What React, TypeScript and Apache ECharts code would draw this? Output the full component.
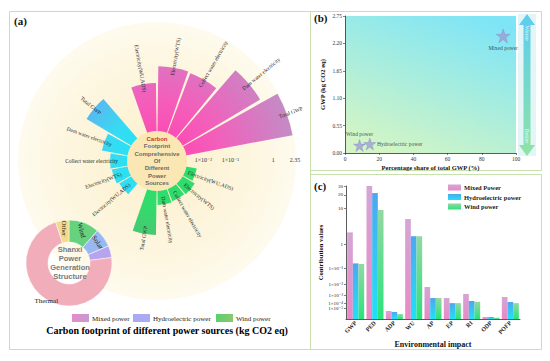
import React, { useEffect, useRef } from 'react';
import * as echarts from 'echarts';

const SERIF = '"Liberation Serif", "Times New Roman", "DejaVu Serif", serif';
const SANS = '"Liberation Sans", Arial, "DejaVu Sans", sans-serif';

// ---------- (a) carbon footprint of power sources (kg CO2 eq) ----------
const footprintItems = ['Total GWP', 'Dam water electricity', 'Collect water electricity', 'Electricity(WTS)', 'Electricity(WU,ADS)'];
const mixedFootprint = [2.35, 1.17, 0.34, 0.36, 0.135];
const hydroFootprint = [0.174, 0.026, 0.0108, 0.0097, 0.0077];
const windFootprint = [0.104, 0.0077, 0.0069, 0.0077, 0.0051];
const angleSlots = ['M1', 'M2', 'M3', 'M4', 'M5', 'gapA', 'H1', 'H2', 'H3', 'H4', 'H5', 'gapB', 'W1', 'W2', 'W3', 'W4', 'W5', 'gapC'];
const mixedStart = 0;
const hydroStart = 6;
const windStart = 12;
const zeroSlot = 17;
const radialTicks = [0.01, 0.1, 1, 2.35];
const radialTickLabels = ['1×10⁻²', '1×10⁻¹', '1', '2.35'];
const centerLines = ['Carbon', 'Footprint', 'Comprehensive', 'Of', 'Different', 'Power', 'Sources'];

// ---------- Shanxi power generation structure ----------
const shanxiSources = ['Wind', 'Solar', 'Hydro', 'Thermal', 'Other'];
const shanxiShare = [11.5, 7, 4.5, 72, 5];
const shanxiLines = ['Shanxi', 'Power', 'Generation', 'Structure'];

// ---------- (b) GWP vs share ----------
const gwpSources = ['Mixed power', 'Wind power', 'Hydroelectric power'];
const gwpShare = [92.5, 8.5, 14.5];
const gwpValue = [2.35, 0.15, 0.18];

// ---------- (c) environmental impacts ----------
const impactCategories = ['GWP', 'PED', 'ADP', 'WU', 'AP', 'EP', 'RI', 'ODP', 'POFP'];
const mixedImpact = [2.35, 31, 1.7e-6, 5.5, 6.4e-3, 5.2e-4, 1.5e-3, 5e-10, 6.9e-4];
const hydroImpact = [0.17, 21.7, 7.7e-7, 1.8, 5.2e-4, 1.0e-4, 2.1e-4, 5e-10, 1.5e-4];
const windImpact = [0.16, 9.2, 1e-7, 1.8, 5.2e-4, 1.0e-4, 1.6e-4, 2e-11, 1.0e-4];
const impactTicks = [1e-5, 1e-4, 1e-3, 1e-2, 0.1, 1, 10, 20, 30];
const impactTickLabels = ['1×10⁻⁵', '1×10⁻⁴', '1×10⁻³', '1×10⁻²', '1×10⁻¹', '1', '10', '20', '30'];

// axis scale transforms (power scales used by the original figure)
const RP = 0.2;
const rt = (v: number) => Math.pow(v, RP);
const CP = 0.1685;
const ct = (v: number) => Math.pow(v, CP);

const STAR = 'path://M50,0 L61.8,35.1 L98.9,35.1 L68.8,56.7 L80.3,91.9 L50,70 L19.7,91.9 L31.2,56.7 L1.1,35.1 L38.2,35.1 Z';

function slotData(vals: number[], start: number) {
  return angleSlots.map((_, k) => (k >= start && k < start + vals.length ? rt(vals[k - start]) : '-'));
}

export default function App() {
  const ref = useRef<HTMLDivElement>(null);
  useEffect(() => {
    if (!ref.current) return;
    const chart = echarts.init(ref.current, undefined, { renderer: 'svg' });
    const PCX = 157, PCY = 161, PR = 138;
    const rg = (stops: [number, string][]) =>
      new echarts.graphic.RadialGradient(PCX, PCY, PR, stops.map(([offset, color]) => ({ offset, color })), true);

    const barLabelItems: { t: number; slot: number; text: string }[] = [];
    [[mixedFootprint, mixedStart], [hydroFootprint, hydroStart], [windFootprint, windStart]].forEach(([vals, st]: any) => {
      (vals as number[]).forEach((v, i) => barLabelItems.push({ t: rt(v), slot: st + i, text: footprintItems[i] }));
    });

    const tickT = impactTicks.map(ct);

    const lg = (a: string, b: string) =>
      new echarts.graphic.LinearGradient(0, 0, 0, 1, [{ offset: 0, color: a }, { offset: 1, color: b }]);

    const graphics: any[] = [
      // panel frames
      { type: 'rect', shape: { x: 9.5, y: 11.5, width: 301, height: 338 }, style: { fill: 'none', stroke: '#c8e0b0', lineWidth: 1 }, z: 0 },
      { type: 'rect', shape: { x: 310.5, y: 11.5, width: 231, height: 159 }, style: { fill: 'none', stroke: '#c8e0b0', lineWidth: 1 }, z: 0 },
      { type: 'rect', shape: { x: 310.5, y: 174.5, width: 231, height: 175 }, style: { fill: 'none', stroke: '#c8e0b0', lineWidth: 1 }, z: 0 },
      // big pale circle
      {
        type: 'circle', shape: { cx: PCX, cy: PCY, r: 139 }, z: 0, silent: true,
        style: { fill: new echarts.graphic.RadialGradient(0.5, 0.5, 0.5, [{ offset: 0, color: '#fcf0cc' }, { offset: 0.7, color: '#fdf6e0' }, { offset: 1, color: '#fefbee' }]) },
      },
      // center circle
      { type: 'circle', shape: { cx: PCX, cy: PCY, r: 30 }, style: { fill: '#fbe7b4' }, z: 10 },
      ...centerLines.map((s, i) => ({
        type: 'text', x: PCX, y: 139 + i * 7.3, z: 11,
        style: { text: s, align: 'center', verticalAlign: 'middle', font: `bold 6px ${SANS}`, fill: i === 0 ? '#c0392b' : '#6a6a6a' },
      })),
      ...shanxiLines.map((s, i) => ({
        type: 'text', x: 70, y: 249 + i * 9.3, z: 11,
        style: { text: s, align: 'center', verticalAlign: 'middle', font: `bold 7.5px ${SANS}`, fill: '#787878' },
      })),
      // panel labels
      { type: 'text', x: 14, y: 21, z: 11, style: { text: '(a)', verticalAlign: 'middle', font: `bold 11px ${SERIF}`, fill: '#111' } },
      { type: 'text', x: 314, y: 18, z: 11, style: { text: '(b)', verticalAlign: 'middle', font: `bold 11px ${SERIF}`, fill: '#111' } },
      { type: 'text', x: 314, y: 186, z: 11, style: { text: '(c)', verticalAlign: 'middle', font: `bold 11px ${SERIF}`, fill: '#111' } },
      // (a) legend
      { type: 'rect', shape: { x: 72, y: 314, width: 17, height: 8 }, z: 11, style: { fill: new echarts.graphic.LinearGradient(0, 0, 1, 0, [{ offset: 0, color: '#e58ccd' }, { offset: 1, color: '#c99ad0' }]) } },
      { type: 'text', x: 92, y: 318.5, z: 11, style: { text: 'Mixed power', verticalAlign: 'middle', font: `7px ${SERIF}`, fill: '#222' } },
      { type: 'rect', shape: { x: 133, y: 314, width: 17, height: 8 }, z: 11, style: { fill: '#aaaaf4' } },
      { type: 'text', x: 153, y: 318.5, z: 11, style: { text: 'Hydroelectric power', verticalAlign: 'middle', font: `7px ${SERIF}`, fill: '#222' } },
      { type: 'rect', shape: { x: 216, y: 314, width: 17, height: 8 }, z: 11, style: { fill: new echarts.graphic.LinearGradient(0, 0, 1, 0, [{ offset: 0, color: '#5ccf6f' }, { offset: 1, color: '#8cc86c' }]) } },
      { type: 'text', x: 236, y: 318.5, z: 11, style: { text: 'Wind power', verticalAlign: 'middle', font: `7px ${SERIF}`, fill: '#222' } },
      { type: 'text', x: 167, y: 330, z: 11, style: { text: 'Carbon footprint of different power sources (kg CO2 eq)', align: 'center', verticalAlign: 'middle', font: `bold 10px ${SERIF}`, fill: '#000' } },
      // (b) better/worse arrow
      { type: 'rect', shape: { x: 518, y: 14, width: 18, height: 142 }, z: 1, style: { fill: '#e3f5f6' } },
      {
        type: 'polygon', z: 2,
        shape: { points: [[527, 14], [535, 25], [530.5, 25], [530.5, 145], [535, 145], [527, 156], [519, 145], [523.5, 145], [523.5, 25], [519, 25]] },
        style: { fill: lg('#5ccdf2', '#8fe3a4') },
      },
      { type: 'text', x: 527, y: 33, rotation: -Math.PI / 2, z: 3, style: { text: 'Worse', align: 'center', verticalAlign: 'middle', font: `6px ${SERIF}`, fill: '#e4f7ff' } },
      { type: 'text', x: 527, y: 136, rotation: -Math.PI / 2, z: 3, style: { text: 'Better', align: 'center', verticalAlign: 'middle', font: `6px ${SERIF}`, fill: '#e4f7ff' } },
    ];

    const option: any = {
      animation: false,
      backgroundColor: '#ffffff',
      graphic: { elements: graphics },
      polar: { center: [PCX, PCY], radius: [0, PR] },
      radiusAxis: {
        type: 'value', min: 0, max: rt(2.35),
        axisLine: { show: false }, axisTick: { show: false }, axisLabel: { show: false }, splitLine: { show: false },
      },
      angleAxis: {
        type: 'category', data: angleSlots, startAngle: 10, clockwise: false,
        axisLine: { show: false }, axisTick: { show: false }, axisLabel: { show: false }, splitLine: { show: false },
      },
      grid: [
        {
          left: 345, top: 16, width: 171, height: 137, show: true, borderWidth: 0,
          backgroundColor: new echarts.graphic.LinearGradient(0.25, 1, 0.75, 0, [
            { offset: 0, color: '#d3f5c5' }, { offset: 1, color: '#7fe5f6' },
          ]),
        },
        { left: 346, top: 186, width: 174, height: 133 },
      ],
      xAxis: [
        {
          gridIndex: 0, type: 'value', min: 0, max: 100, interval: 20,
          name: 'Percentage share of total GWP (%)', nameLocation: 'middle', nameGap: 11,
          nameTextStyle: { fontFamily: SERIF, fontWeight: 'bold', fontSize: 6.5, color: '#111' },
          axisLine: { lineStyle: { color: '#333', width: 0.8 } },
          axisTick: { length: 2, lineStyle: { color: '#333', width: 0.6 } },
          axisLabel: { fontFamily: SERIF, fontSize: 5.5, color: '#333', margin: 3 },
          splitLine: { show: false },
        },
        {
          gridIndex: 1, type: 'category', data: impactCategories,
          name: 'Environmental impact', nameLocation: 'middle', nameGap: 21,
          nameTextStyle: { fontFamily: SERIF, fontWeight: 'bold', fontSize: 8, color: '#111' },
          axisLine: { lineStyle: { color: '#333', width: 0.8 } },
          axisTick: { show: false },
          axisLabel: { interval: 0, rotate: 45, fontFamily: SERIF, fontWeight: 'bold', fontSize: 6, color: '#222', margin: 3 },
        },
      ],
      yAxis: [
        {
          gridIndex: 0, type: 'value', min: 0, max: 2.75, interval: 0.55,
          name: 'GWP (kg CO2 eq)', nameLocation: 'middle', nameGap: 19, nameRotate: 90,
          nameTextStyle: { fontFamily: SERIF, fontWeight: 'bold', fontSize: 6.5, color: '#111' },
          axisLine: { show: true, lineStyle: { color: '#333', width: 0.8 } },
          axisTick: { show: true, length: 2, lineStyle: { color: '#333', width: 0.6 } },
          axisLabel: { fontFamily: SERIF, fontSize: 5.5, color: '#333', margin: 3, formatter: (v: number) => v.toFixed(2) },
          splitLine: { show: false },
        },
        {
          gridIndex: 1, type: 'value', min: 0, max: ct(30),
          name: 'Contribution values', nameLocation: 'middle', nameGap: 18, nameRotate: 90,
          nameTextStyle: { fontFamily: SERIF, fontWeight: 'bold', fontSize: 6.5, color: '#111' },
          axisLine: { show: true, lineStyle: { color: '#333', width: 0.8 } },
          axisTick: { show: true, length: 2, customValues: tickT, lineStyle: { color: '#333', width: 0.6 } },
          axisLabel: {
            customValues: tickT, fontFamily: SERIF, fontSize: 5, color: '#222', margin: 3,
            formatter: (v: number) => {
              const i = tickT.findIndex((t) => Math.abs(t - v) < 1e-6);
              return i >= 0 ? impactTickLabels[i] : '';
            },
          },
          splitLine: { show: false },
        },
      ],
      legend: {
        data: ['Mixed Power', 'Hydroelectric power', 'Wind power'],
        orient: 'vertical', left: 448, top: 184, itemWidth: 13, itemHeight: 6, itemGap: 2.5, padding: 0,
        icon: 'rect',
        textStyle: { fontFamily: SERIF, fontWeight: 'bold', fontSize: 6.5, color: '#222', padding: [0, 0, 0, -2] },
      },
      series: [
        {
          type: 'pie', name: 'shanxi', center: [69, 263], radius: [21, 43], startAngle: 90, clockwise: true,
          z: 3, silent: true,
          label: { position: 'inside', fontFamily: SERIF, fontSize: 7, color: '#222' },
          labelLine: { show: false },
          itemStyle: { borderColor: '#ffffff', borderWidth: 0.5 },
          color: ['#67d27e', '#98b8f2', '#b8a3ef', '#f2adbb', '#f4da8a'],
          data: shanxiSources.map((name, i) => ({
            name, value: shanxiShare[i],
            label: { rotate: [-75, -55, -55, 0, -90][i], offset: i === 3 ? [-4, 8] : [0, 0] },
          })),
        },
        {
          type: 'bar', name: 'a-mixed', coordinateSystem: 'polar', data: slotData(mixedFootprint, mixedStart),
          barGap: '-100%', barCategoryGap: '8%', z: 2, silent: true,
          itemStyle: { color: rg([[0, '#ff3fae'], [0.45, '#f45ebb'], [1, '#c48bc6']]) },
        },
        {
          type: 'bar', name: 'a-hydro', coordinateSystem: 'polar', data: slotData(hydroFootprint, hydroStart),
          barGap: '-100%', barCategoryGap: '8%', z: 2, silent: true,
          itemStyle: { color: rg([[0, '#19e6f4'], [0.35, '#35dcf3'], [0.65, '#5fb2ef'], [1, '#6a9ee8']]) },
        },
        {
          type: 'bar', name: 'a-wind', coordinateSystem: 'polar', data: slotData(windFootprint, windStart),
          barGap: '-100%', barCategoryGap: '8%', z: 2, silent: true,
          itemStyle: { color: rg([[0, '#20e36a'], [0.35, '#33da6c'], [0.6, '#4fc274'], [1, '#6fae80']]) },
        },
        {
          type: 'custom', name: 'a-labels', coordinateSystem: 'polar', z: 4, silent: true,
          data: barLabelItems.map((d) => [d.t, d.slot]),
          renderItem: (params: any, api: any) => {
            const item = barLabelItems[params.dataIndex];
            const p = api.coord([item.t, item.slot]);
            const c = api.coord([0, item.slot]);
            const dx = p[0] - c[0];
            const dy = p[1] - c[1];
            const len = Math.hypot(dx, dy) || 1;
            const s = Math.max(len - 8, 33);
            const x = c[0] + (dx / len) * s;
            const y = c[1] + (dy / len) * s;
            const th = Math.atan2(-dy, dx);
            const right = Math.cos(th) >= -0.02;
            return {
              type: 'text', x, y, rotation: right ? th : th + Math.PI,
              style: { text: item.text, align: right ? 'left' : 'right', verticalAlign: 'middle', font: `5.5px ${SERIF}`, fill: '#2a2a2a' },
            };
          },
        },
        {
          type: 'custom', name: 'a-ticks', coordinateSystem: 'polar', z: 4, silent: true,
          data: radialTicks.map((v) => [rt(v), zeroSlot]),
          renderItem: (params: any, api: any) => {
            const p = api.coord([api.value(0), zeroSlot]);
            return {
              type: 'text', x: p[0], y: p[1] - 1,
              style: { text: radialTickLabels[params.dataIndex], align: 'center', verticalAlign: 'middle', font: `6px ${SERIF}`, fill: '#333' },
            };
          },
        },
        {
          type: 'scatter', name: 'gwp', xAxisIndex: 0, yAxisIndex: 0, symbol: STAR, z: 5, silent: true,
          itemStyle: { color: '#9c9ed6', borderColor: '#8a8cc4', borderWidth: 0.5 },
          label: { show: true, fontFamily: SERIF, fontSize: 5.5, color: '#222', formatter: (p: any) => p.name },
          data: gwpSources.map((name, i) => ({
            name, value: [gwpShare[i], gwpValue[i]],
            symbolSize: i === 0 ? 14 : 12,
            label: { position: ['bottom', 'top', 'right'][i], distance: i === 2 ? 1 : 2 },
          })),
        },
        {
          type: 'bar', name: 'Mixed Power', xAxisIndex: 1, yAxisIndex: 1, barGap: '0%', barCategoryGap: '12%',
          data: mixedImpact.map(ct), silent: true,
          itemStyle: { color: lg('#d3a6d6', '#ec88c6') },
        },
        {
          type: 'bar', name: 'Hydroelectric power', xAxisIndex: 1, yAxisIndex: 1, barGap: '0%', barCategoryGap: '12%',
          data: hydroImpact.map(ct), silent: true,
          itemStyle: { color: lg('#4fa6f0', '#1fe2f6') },
        },
        {
          type: 'bar', name: 'Wind power', xAxisIndex: 1, yAxisIndex: 1, barGap: '0%', barCategoryGap: '12%',
          data: windImpact.map(ct), silent: true,
          itemStyle: { color: lg('#93d8a2', '#2be27a') },
        },
      ],
    };
    chart.setOption(option);
    return () => chart.dispose();
  }, []);
  return <div ref={ref} style={{ position: 'absolute', left: 0, top: 0, width: 550, height: 361 }} />;
}
